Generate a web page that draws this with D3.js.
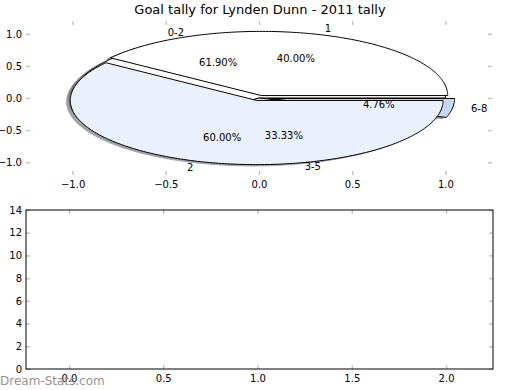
<!DOCTYPE html>
<html>
<head>
<meta charset="utf-8">
<script src="https://cdn.jsdelivr.net/npm/d3@7"></script>
<style>
  body { margin: 0; background: #fff; }
  svg text { font-family: "DejaVu Sans", sans-serif; }
</style>
</head>
<body>
<svg id="chart" width="520" height="390"></svg>
<script>
// goal tally pies (two pies drawn on the same axes)
const tallyLabels = ["1", "2"];
const tallyValues = [2, 3];
const rangeLabels = ["0-2", "3-5", "6-8"];
const rangeValues = [13, 7, 1];

// styles
const tallyColors = ["#ffffff", "#eaf1fd"];
const tallyExplode = [0.04, 0.04];
const rangeColors = ["#ffffff", "#eaf1fd", "#c4d7f4"];
const rangeExplode = [0, 0, 0.05];

const pieTicks = [-1.0, -0.5, 0.0, 0.5, 1.0];
const barXTicks = [0.0, 0.5, 1.0, 1.5, 2.0];
const barYTicks = [0, 2, 4, 6, 8, 10, 12, 14];

const svg = d3.select("#chart");
const tickColor = "#c4c4c4";

svg.append("text")
    .attr("x", 260)
    .attr("y", 14)
    .attr("text-anchor", "middle")
    .style("font-size", "13px")
    .text("Goal tally for Lynden Dunn - 2011 tally");

// ---- top axes: pies ----
const x = d3.scaleLinear().domain([-1.25, 1.25]).range([26, 492]);
const y = d3.scaleLinear().domain([-1.2, 1.2]).range([175, 21]);

const pieG = svg.append("g");

function addTicks(g, xs, ys, xTicks, yTicks, xFmt, yFmt) {
    const [x0, x1] = xs.range();
    const [y0, y1] = ys.range();
    const b = g.append("g").attr("transform", `translate(0,${y0})`)
        .call(d3.axisBottom(xs).tickValues(xTicks).tickSize(-4).tickPadding(6).tickFormat(xFmt));
    const t = g.append("g").attr("transform", `translate(0,${y1})`)
        .call(d3.axisTop(xs).tickValues(xTicks).tickSize(-4).tickFormat(""));
    const l = g.append("g").attr("transform", `translate(${x0},0)`)
        .call(d3.axisLeft(ys).tickValues(yTicks).tickSize(-4).tickPadding(4).tickFormat(yFmt));
    const r = g.append("g").attr("transform", `translate(${x1},0)`)
        .call(d3.axisRight(ys).tickValues(yTicks).tickSize(-4).tickFormat(""));
    [b, t, l, r].forEach(a => {
        a.select(".domain").remove();
        a.selectAll(".tick line").attr("stroke", tickColor).attr("stroke-width", 1.5);
        a.selectAll(".tick text").attr("fill", "#000").style("font-size", "10px")
            .style("font-family", "DejaVu Sans, sans-serif");
    });
}

addTicks(pieG, x, y, pieTicks, pieTicks, d3.format(".1f"), d3.format(".1f"));

const pie = d3.pie().sort(null).startAngle(0).endAngle(2 * Math.PI);

function wedgePoints(d, dx, dy) {
    const n = Math.max(4, Math.ceil((d.endAngle - d.startAngle) * 60));
    const pts = [[dx, dy]];
    for (let i = 0; i <= n; i++) {
        const t = d.startAngle + (d.endAngle - d.startAngle) * i / n;
        pts.push([dx + Math.cos(t), dy + Math.sin(t)]);
    }
    return pts;
}

const line = d3.line().x(p => x(p[0])).y(p => y(p[1]));

function buildPie(values, labels, colors, explode) {
    const total = d3.sum(values);
    return pie(values).map((d, i) => {
        const mid = (d.startAngle + d.endAngle) / 2;
        return { d, mid,
                 dx: explode[i] * Math.cos(mid),
                 dy: explode[i] * Math.sin(mid),
                 label: labels[i], color: colors[i],
                 pct: d.value / total * 100 };
    });
}

const rangeWedges = buildPie(rangeValues, rangeLabels, rangeColors, rangeExplode);
const tallyWedges = buildPie(tallyValues, tallyLabels, tallyColors, tallyExplode);
const allWedges = rangeWedges.concat(tallyWedges);

const dark = w => { const c = d3.rgb(w.color); return d3.rgb(c.r * 0.3, c.g * 0.3, c.b * 0.3); };

// shadows below every wedge
pieG.append("g").selectAll("path")
    .data(allWedges)
    .join("path")
    .attr("d", w => line(wedgePoints(w.d, w.dx - 0.02, w.dy - 0.02)) + "Z")
    .attr("fill", dark)
    .attr("stroke", dark)
    .attr("stroke-width", 1)
    .attr("opacity", 0.5);

pieG.append("g").selectAll("path")
    .data(allWedges)
    .join("path")
    .attr("d", w => line(wedgePoints(w.d, w.dx, w.dy)) + "Z")
    .attr("fill", w => w.color)
    .attr("stroke", "#000")
    .attr("stroke-width", 1)
    .attr("stroke-linejoin", "round");

const textG = pieG.append("g").style("font-size", "10px");
textG.selectAll("text.lbl")
    .data(allWedges)
    .join("text")
    .attr("class", "lbl")
    .attr("x", w => x(w.dx + 1.1 * Math.cos(w.mid)))
    .attr("y", w => y(w.dy + 1.1 * Math.sin(w.mid)))
    .attr("dy", "0.35em")
    .attr("text-anchor", w => (w.dx + 1.1 * Math.cos(w.mid)) > 0 ? "start" : "end")
    .text(w => w.label);

textG.selectAll("text.pct")
    .data(allWedges)
    .join("text")
    .attr("class", "pct")
    .attr("x", w => x(w.dx + 0.6 * Math.cos(w.mid)))
    .attr("y", w => y(w.dy + 0.6 * Math.sin(w.mid)))
    .attr("dy", "0.35em")
    .attr("text-anchor", "middle")
    .text(w => w.pct.toFixed(2) + "%");

// ---- bottom axes: empty ----
const bx = d3.scaleLinear().domain([-0.228, 2.249]).range([26, 493]);
const by = d3.scaleLinear().domain([0, 14]).range([369, 210]);

const barG = svg.append("g");
addTicks(barG, bx, by, barXTicks, barYTicks, d3.format(".1f"), d3.format("d"));
barG.append("rect")
    .attr("x", 26).attr("y", 210)
    .attr("width", 467).attr("height", 159)
    .attr("fill", "none")
    .attr("stroke", "#000")
    .attr("stroke-width", 1);

svg.append("text")
    .attr("x", 0)
    .attr("y", 385)
    .attr("fill", "#8a8a8a")
    .attr("opacity", 0.9)
    .style("font-size", "12px")
    .text("Dream-Stats.com");
</script>
</body>
</html>
